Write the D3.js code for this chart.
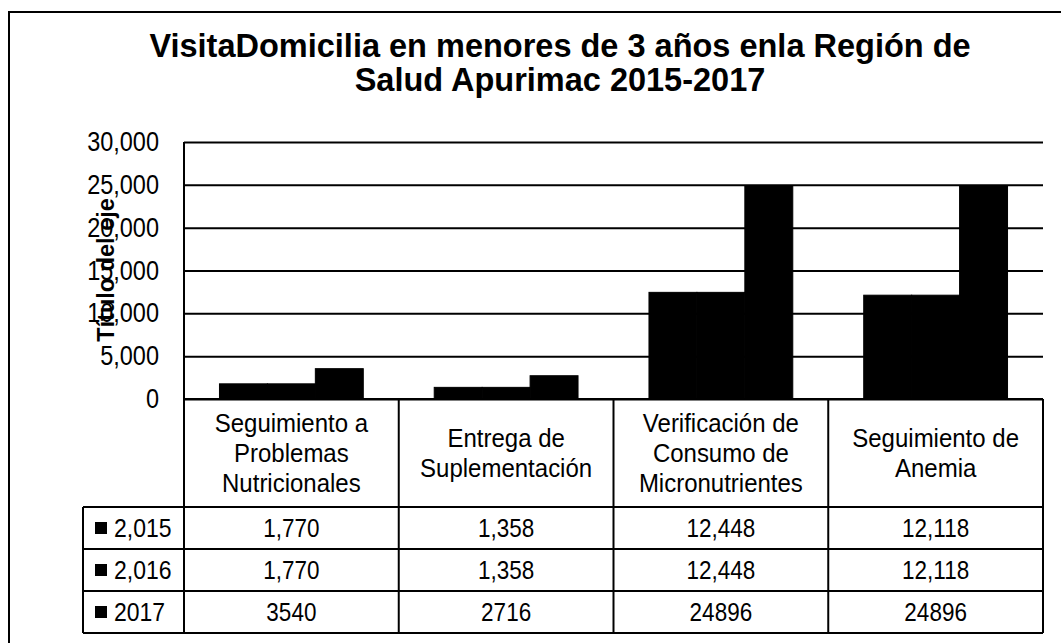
<!DOCTYPE html>
<html><head><meta charset="utf-8">
<script src="https://cdn.jsdelivr.net/npm/d3@7"></script>
<style>
body{margin:0;background:#fff}
svg{display:block}
text{font-family:"Liberation Sans",Arial,sans-serif;fill:#000}
</style>
</head><body><svg id="c" width="1061" height="643"></svg>
<script>
const categories = [
  ["Seguimiento a","Problemas","Nutricionales"],
  ["Entrega de","Suplementación"],
  ["Verificación de","Consumo de","Micronutrientes"],
  ["Seguimiento de","Anemia"]
];
const seriesNames = ["2,015","2,016","2017"];
const values2015 = [1770,1358,12448,12118];
const values2016 = [1770,1358,12448,12118];
const values2017 = [3540,2716,24896,24896];
const seriesFormats = [",", ",", "d"];
const yTicks = [0,5000,10000,15000,20000,25000,30000];
const titleLines = ["VisitaDomicilia en menores de 3 años enla Región de","Salud Apurimac 2015-2017"];
const axisTitle = "Título del eje";

(function(){
const series = [values2015, values2016, values2017];
const svg = d3.select("#c");

const pLeft = 184, pRight = 1043, pTop = 142, pBase = 399;
const headerBottom = 507, rowH = 42;
const legendLeft = 83;
const tableBottom = headerBottom + rowH*series.length;
const K = 1.15; // vertical stretch of scanned text

const x = d3.scaleBand().domain(d3.range(categories.length)).range([pLeft, pRight]).padding(0);
const xs = d3.scaleBand().domain(d3.range(series.length)).range([0, x.bandwidth()]).paddingInner(0).paddingOuter(0.74);
const y = d3.scaleLinear().domain([0, 30000]).range([pBase, pTop]);

// outer chart border
svg.append("rect").attr("x",9).attr("y",12).attr("width",1200).attr("height",800)
  .attr("fill","none").attr("stroke","#000").attr("stroke-width",2);

// title
svg.append("g").selectAll("text").data(titleLines).join("text")
  .attr("x",560).attr("y",(d,i)=>57+i*34)
  .attr("text-anchor","middle").attr("font-size",32.5).attr("font-weight","bold")
  .text(d=>d);

// gridlines
const grid = svg.append("g").attr("transform",`translate(${pLeft},0)`)
  .call(d3.axisLeft(y).tickValues(yTicks).tickSize(-(pRight-pLeft)).tickFormat(""));
grid.select(".domain").remove();
grid.selectAll("line").attr("stroke","#000").attr("stroke-width",2);

// tick labels
const ax = svg.append("g").attr("transform",`translate(${pLeft},0)`)
  .call(d3.axisLeft(y).tickValues(yTicks).tickSize(0).tickPadding(25).tickFormat(d3.format(",")));
ax.select(".domain").remove();
ax.selectAll("text").attr("font-size",23.5).attr("font-family","Liberation Sans, Arial, sans-serif")
  .attr("fill","#000").attr("transform",`scale(1,${K})`);

// bars
svg.append("g").selectAll("g").data(series).join("g")
  .each(function(vals, si){
    d3.select(this).selectAll("rect").data(vals).join("rect")
      .attr("x",(d,ci)=>x(ci)+xs(si))
      .attr("y",d=>y(d))
      .attr("width",xs.bandwidth())
      .attr("height",d=>y(0)-y(d))
      .attr("fill","#000").attr("stroke","#000").attr("stroke-width",1);
  });

// y axis line (continues into table)
svg.append("line").attr("x1",pLeft).attr("x2",pLeft).attr("y1",pTop).attr("y2",tableBottom)
  .attr("stroke","#000").attr("stroke-width",2);

// axis title
svg.append("text").attr("transform","translate(106,270) rotate(-90)")
  .attr("text-anchor","middle").attr("dominant-baseline","central")
  .attr("font-size",23.5).attr("font-weight","bold").text(axisTitle);

// table lines
const tbl = svg.append("g").attr("stroke","#000").attr("stroke-width",2);
for (let r = 0; r <= series.length; r++) {
  tbl.append("line").attr("x1",legendLeft).attr("x2",pRight)
    .attr("y1",headerBottom+r*rowH).attr("y2",headerBottom+r*rowH);
}
tbl.append("line").attr("x1",pLeft).attr("x2",pRight).attr("y1",pBase).attr("y2",pBase);
categories.forEach((c,i)=>{
  const xx = x(i)+x.bandwidth();
  tbl.append("line").attr("x1",xx).attr("x2",xx).attr("y1",pBase).attr("y2",tableBottom);
});
tbl.append("line").attr("x1",legendLeft).attr("x2",legendLeft).attr("y1",headerBottom).attr("y2",tableBottom);

// category labels
const lh = 30;
categories.forEach((lines,i)=>{
  const cx = x(i)+x.bandwidth()/2;
  const cy = (pBase+headerBottom)/2;
  svg.append("g").selectAll("text").data(lines).join("text")
    .attr("transform",(d,k)=>`translate(${cx},${cy+(k-(lines.length-1)/2)*lh}) scale(1,1.05)`)
    .attr("text-anchor","middle").attr("dominant-baseline","central")
    .attr("font-size",24).text(d=>d);
});

// legend rows and values
series.forEach((vals,si)=>{
  const ry = headerBottom + si*rowH + rowH/2;
  svg.append("rect").attr("x",95).attr("y",ry-6).attr("width",12).attr("height",12).attr("fill","#000");
  svg.append("text").attr("transform",`translate(114,${ry}) scale(1,${K})`).attr("dominant-baseline","central")
    .attr("font-size",23).text(seriesNames[si]);
  const fmt = d3.format(seriesFormats[si]);
  svg.append("g").selectAll("text").data(vals).join("text")
    .attr("transform",(d,ci)=>`translate(${x(ci)+x.bandwidth()/2},${ry}) scale(1,${K})`)
    .attr("text-anchor","middle").attr("dominant-baseline","central")
    .attr("font-size",22.5).text(d=>fmt(d));
});
})();
</script>
</body></html>
